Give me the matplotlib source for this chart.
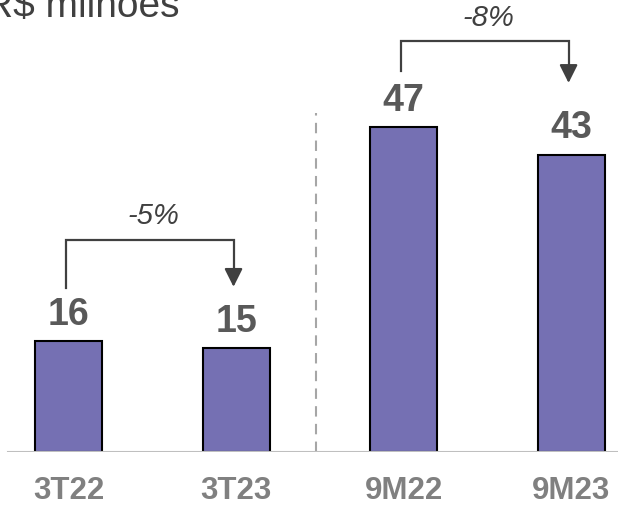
import matplotlib.pyplot as plt

plt.rcParams["font.family"] = ["Liberation Sans", "DejaVu Sans"]

# data
categories = ["3T22", "3T23", "9M22", "9M23"]
values = [16, 15, 47, 43]
changes = ["-5%", "-8%"]

bar_color = "#7570b3"
label_gray = "#808080"
value_gray = "#595959"
line_dark = "#404040"

fig = plt.figure(figsize=(6.18, 5.05), dpi=100)
ax = fig.add_axes([0, 53 / 505, 1, 452 / 505])

x = list(range(len(categories)))
ax.bar(x, values, width=0.4, color=bar_color, edgecolor="black", linewidth=1.5, zorder=2)

ax.set_xlim(-0.409, 3.28)
ax.set_ylim(0, 65.4)
ax.axis("off")

# baseline
ax.axhline(0, xmin=0.013, xmax=1, color="#bfbfbf", linewidth=1.5, zorder=3)

# separator between quarter and nine-month blocks
ax.plot([1.478, 1.478], [0, 49], color="#a6a6a6", linestyle=(0, (5, 3.5)),
        linewidth=1.5, zorder=1)

# value labels
for xi, v in zip(x, values):
    ax.text(xi, v + 2.4, str(v), ha="center", va="baseline", fontsize=27,
            fontweight="bold", color=value_gray)

# category labels
for xi, c in zip(x, categories):
    ax.text(xi, -6.8, c, ha="center", va="baseline", fontsize=22.5,
            fontweight="bold", color=label_gray)

# change brackets: (from, to, start offset, top offset, arrow tip offset)
pairs = [(0, 1, 7.7, 14.7, 7.9), (2, 3, 8.1, 12.4, 6.4)]
for (i, j, start_off, top_off, tip_off), txt in zip(pairs, changes):
    y0 = values[i] + start_off
    ytop = values[i] + top_off
    ytip = values[i] + tip_off
    xa, xb = x[i] - 0.015, x[j] - 0.015
    ax.plot([xa, xa, xb, xb], [y0, ytop, ytop, ytip + 1.5], color=line_dark,
            linewidth=1.6, solid_joinstyle="miter", zorder=3)
    ax.annotate("", xy=(xb, ytip), xytext=(xb, ytip + 2.4),
                arrowprops=dict(arrowstyle="-|>,head_width=0.55,head_length=1.1",
                                mutation_scale=10, color=line_dark, linewidth=1.6,
                                shrinkA=0, shrinkB=0))
    ax.text((xa + xb) / 2 + 0.02, ytop + 3.4, txt, ha="center", va="center",
            fontsize=21, fontstyle="italic", color=line_dark)

# unit title, partly cut off at the top-left like the source
fig.text(-0.024, 1 - 17 / 505, "R$ milhões", ha="left", va="baseline", fontsize=28,
         color=line_dark)

fig.savefig("out.png", dpi=100)
